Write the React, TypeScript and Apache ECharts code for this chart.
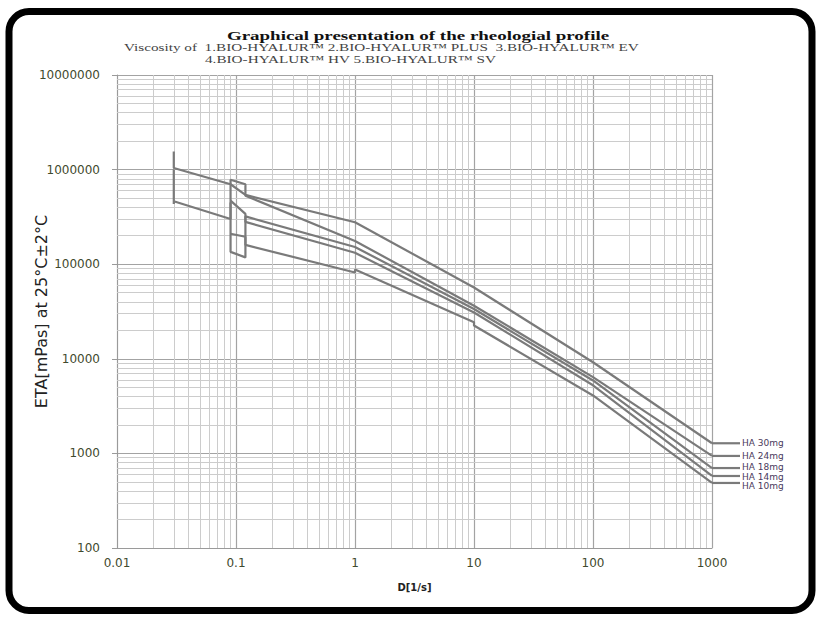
import { useEffect, useRef } from 'react';
import * as echarts from 'echarts';

// ---- data ----
const seriesNames = ['HA 30mg', 'HA 24mg', 'HA 18mg', 'HA 14mg', 'HA 10mg'];
const ha30mg = [[0.03, 1550000], [0.03, 1040000], [0.09, 700000], [0.12, 540000], [1, 278000], [10, 56700], [100, 9200], [1000, 1280]];
const ha24mg = [[0.03, 1000000], [0.03, 432000], [0.03, 463000], [0.09, 300000], [0.09, 780000], [0.12, 700000], [0.12, 530000], [1, 176000], [10, 36400], [100, 6400], [1000, 940]];
const ha18mg = [[0.09, 450000], [0.09, 135000], [0.12, 118000], [0.12, 320000], [1, 152000], [10, 33600], [100, 5900], [1000, 700]];
const ha14mg = [[0.09, 470000], [0.12, 340000], [0.12, 280000], [1, 132000], [10, 30900], [100, 5250], [1000, 577]];
const ha10mg = [[0.09, 210000], [0.12, 195000], [0.12, 160000], [1, 81600], [1, 88000], [10, 24300], [10, 22500], [100, 4100], [1000, 487]];
const seriesData = [ha30mg, ha24mg, ha18mg, ha14mg, ha10mg];
// small vertical nudges for the end labels (px), so that they do not fully overlap
const labelNudge = [0, 0, -1, 1, 3];

const xDecades = [0.01, 0.1, 1, 10, 100];
const yDecades = [100, 1000, 10000, 100000, 1000000];
const minorSteps = [2, 3, 4, 5, 6, 7, 8, 9];
const xMinor = xDecades.flatMap((d) => minorSteps.map((k) => +(d * k).toPrecision(6)));
const yMinor = yDecades.flatMap((d) => minorSteps.map((k) => d * k));

const titleText = 'Graphical presentation of the rheologial profile';
const subtitle1 = 'Viscosity of  1.BIO-HYALUR\u2122 2.BIO-HYALUR\u2122 PLUS  3.BIO-HYALUR\u2122 EV';
const subtitle2 = '4.BIO-HYALUR\u2122 HV 5.BIO-HYALUR\u2122 SV';
const yName = 'ETA[mPas] at 25°C±2°C';
const xName = 'D[1/s]';

const LINE_COLOR = '#7a7a7a';
const TICK_COLOR = '#3f4a2e';

const fmt = (v: number) => String(Number(v.toPrecision(6)));

export default function App() {
  const ref = useRef<HTMLDivElement>(null);
  useEffect(() => {
    if (!ref.current) return;
    const chart = echarts.init(ref.current, undefined, { renderer: 'svg' });
    const baseGraphic: any[] = [
      {
        id: 'border', type: 'rect', z: 100,
        shape: { x: 9, y: 11.5, width: 803, height: 599, r: 20 },
        style: { fill: 'none', stroke: '#000', lineWidth: 7 },
      },
      {
        id: 'title', type: 'text', x: 418, y: 36, scaleX: 1.46,
        style: { text: titleText, fontFamily: 'Liberation Serif', fontWeight: 'bold', fontSize: 13, fill: '#111', align: 'center', verticalAlign: 'middle' },
      },
      {
        id: 'sub1', type: 'text', x: 124, y: 47.5, scaleX: 1.45,
        style: { text: subtitle1, fontFamily: 'Liberation Serif', fontSize: 10.5, fill: '#444', align: 'left', verticalAlign: 'middle' },
      },
      {
        id: 'sub2', type: 'text', x: 205, y: 59.5, scaleX: 1.45,
        style: { text: subtitle2, fontFamily: 'Liberation Serif', fontSize: 10.5, fill: '#444', align: 'left', verticalAlign: 'middle' },
      },
    ];

    chart.setOption({
      animation: false,
      backgroundColor: '#fff',
      grid: { left: 117, top: 75, width: 595, height: 473, containLabel: false },
      xAxis: {
        type: 'log', logBase: 10, min: 0.01, max: 1000,
        name: xName, nameLocation: 'middle', nameGap: 34, nameMoveOverlap: false,
        nameTextStyle: { fontFamily: 'DejaVu Sans', fontWeight: 'bold', fontSize: 10, color: '#222' },
        axisLine: { show: true, lineStyle: { color: '#9a9a9a', width: 1 } },
        axisTick: { show: false },
        axisLabel: { formatter: fmt, fontFamily: 'DejaVu Sans', fontSize: 12, color: TICK_COLOR, margin: 9 },
        splitLine: { show: true, lineStyle: { color: '#a3a3a3', width: 1.2 } },
      },
      yAxis: {
        type: 'log', logBase: 10, min: 100, max: 10000000,
        name: yName, nameLocation: 'middle', nameGap: 68, nameRotate: 90, nameMoveOverlap: false,
        nameTextStyle: { fontFamily: 'DejaVu Sans', fontSize: 16, color: '#222' },
        axisLine: { show: true, lineStyle: { color: '#9a9a9a', width: 1 } },
        axisTick: { show: true, length: 5, lineStyle: { color: '#9a9a9a' } },
        axisLabel: { formatter: fmt, fontFamily: 'DejaVu Sans', fontSize: 12, color: TICK_COLOR, margin: 17 },
        splitLine: { show: true, lineStyle: { color: '#a3a3a3', width: 1.2 } },
      },
      series: [
        {
          type: 'line', name: 'minor-grid', data: [], z: 1, silent: true,
          markLine: {
            z: 1, silent: true, symbol: ['none', 'none'], animation: false,
            label: { show: false },
            lineStyle: { color: '#cccccc', width: 1, type: 'solid' },
            emphasis: { disabled: true },
            data: [...xMinor.map((v) => ({ xAxis: v })), ...yMinor.map((v) => ({ yAxis: v }))],
          },
        },
        ...seriesNames.map((name, i) => ({
          type: 'line', name, data: seriesData[i], z: 10,
          showSymbol: false, symbol: 'none',
          lineStyle: { color: LINE_COLOR, width: 2.2 },
          emphasis: { disabled: true },
        })),
      ],
      graphic: baseGraphic,
    });

    const extra: any[] = [];
    seriesData.forEach((data, i) => {
      const last = data[data.length - 1];
      const p = chart.convertToPixel({ gridIndex: 0 }, last) as number[];
      if (!p) return;
      extra.push({
        id: 'stub' + i, type: 'line', z: 4,
        shape: { x1: p[0], y1: p[1], x2: p[0] + 28, y2: p[1] },
        style: { stroke: LINE_COLOR, lineWidth: 2.2 },
      });
      extra.push({
        id: 'lab' + i, type: 'text', z: 5, x: p[0] + 30, y: p[1] + labelNudge[i],
        style: { text: seriesNames[i], fontFamily: 'DejaVu Sans', fontSize: 9, fill: '#4a3a5c', align: 'left', verticalAlign: 'middle' },
      });
    });
    chart.setOption({ graphic: [...baseGraphic, ...extra] });

    return () => chart.dispose();
  }, []);
  return <div ref={ref} style={{ position: 'fixed', left: 0, top: 0, width: 820, height: 618 }} />;
}
